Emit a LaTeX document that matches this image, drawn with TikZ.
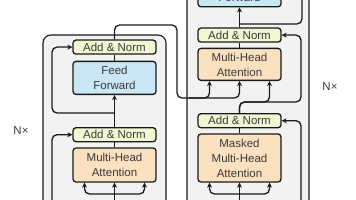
\documentclass[tikz,border=0pt]{standalone}
\usepackage{fontspec}
\setmainfont{Liberation Sans}
\usepackage{tikz}
\usetikzlibrary{arrows.meta, positioning, calc}
\definecolor{normfill}{HTML}{F3F6D2}
\definecolor{fffill}{HTML}{C9E7F5}
\definecolor{attfill}{HTML}{FCE1C1}
\definecolor{stackfill}{HTML}{F2F2F2}
\definecolor{linecol}{HTML}{1A1A1A}
\definecolor{textcol}{HTML}{3A3A3A}
\tikzstyle{arrow}=[-{Stealth[length=5pt, width=5pt]}, line width=1.3pt, color=linecol]
\tikzstyle{wire}=[line width=1.3pt, color=linecol]

\begin{document}
\begin{tikzpicture}[x=1pt, y=-1pt, node distance=5pt,
  block/.style={rectangle, rounded corners=3pt, draw=linecol, line width=1.3pt,
                minimum width=83pt, inner sep=0pt, align=center,
                text=textcol, font=\fontsize{11.5}{15}\selectfont},
  norm/.style={block, fill=normfill, minimum height=14pt},
  ff/.style={block, fill=fffill, minimum height=33pt},
  att/.style={block, fill=attfill, minimum height=34pt},
  stack/.style={rounded corners=8pt, draw=linecol, line width=1.1pt, fill=stackfill},
  reps/.style={text=textcol, font=\fontsize{11.5}{14}\selectfont}
]
\useasboundingbox (0,0) rectangle (356,200);
\clip (0,0) rectangle (356,200);

% Stacks
\draw[stack] (43,35) rectangle (166,215);
\draw[stack] (187,-30) rectangle (309,215);

% Encoder layer
\node[att] (emha) at (114.5,165) {Multi-Head\\Attention};
\node[norm, above=5pt of emha] (enorm1) {Add \& Norm};
\node[ff, above=32pt of enorm1] (eff) {Feed\\Forward};
\node[norm, above=6pt of eff] (enorm2) {Add \& Norm};
\node[reps] (encn) at (21,131) {N×};

% Decoder layer
\node[att, minimum height=48pt] (dmmha) at (239.5,158) {Masked\\Multi-Head\\Attention};
\node[norm, above=5pt of dmmha] (dnorm1) {Add \& Norm};
\node[att, minimum height=32pt, above=32pt of dnorm1] (dmha) {Multi-Head\\Attention};
\node[norm, above=5pt of dmha] (dnorm2) {Add \& Norm};
\node[ff, above=20pt of dnorm2] (dff) {Feed\\Forward};
\node[reps] (decn) at (330,87) {N×};

% Encoder wiring
\coordinate (ein) at (114.5,215);
\coordinate (esplit) at (114.5,194);
\coordinate (eres) at (52,215);
\coordinate (emid) at (114.5,113);
\coordinate (etop) at (177,25);
\coordinate (kv) at (177,98);

\draw[arrow] (ein) -- (emha);
\draw[arrow, rounded corners=5pt] (esplit) -| ([xshift=-30pt]emha.south);
\draw[arrow, rounded corners=5pt] (esplit) -| ([xshift=30pt]emha.south);
\draw[wire] (emha) -- (enorm1);
\draw[arrow, rounded corners=5pt] (eres) |- (enorm1);
\draw[arrow] (enorm1) -- (eff);
\draw[arrow, rounded corners=5pt] (emid) -- (emid -| eres) |- (enorm2);
\draw[wire] (eff) -- (enorm2);
\draw[arrow, rounded corners=5pt] (enorm2) |- (etop) -- (kv) -| ([xshift=-30pt]dmha.south);
\draw[arrow, rounded corners=5pt] ([xshift=12pt]kv) -| (dmha);

% Decoder wiring
\coordinate (din) at (239.5,215);
\coordinate (dsplit) at (239.5,194);
\coordinate (dres) at (301,215);
\coordinate (dq) at (239.5,102);
\coordinate (dmid) at (239.5,24);
\coordinate (dtop) at (302,-25);

\draw[arrow] (din) -- (dmmha);
\draw[arrow, rounded corners=5pt] (dsplit) -| ([xshift=-30pt]dmmha.south);
\draw[arrow, rounded corners=5pt] (dsplit) -| ([xshift=30pt]dmmha.south);
\draw[wire] (dmmha) -- (dnorm1);
\draw[arrow, rounded corners=5pt] (dres) |- (dnorm1);
\draw[arrow, rounded corners=5pt] (dnorm1) -- (dq) -| ([xshift=30pt]dmha.south);
\draw[arrow, rounded corners=5pt] (dnorm1) -- (dq) -- (dq -| dres) |- (dnorm2);
\draw[wire] (dmha) -- (dnorm2);
\draw[arrow] (dnorm2) -- (dff);
\draw[wire, rounded corners=5pt] (dmid) -| (dtop);
\end{tikzpicture}
\end{document}
